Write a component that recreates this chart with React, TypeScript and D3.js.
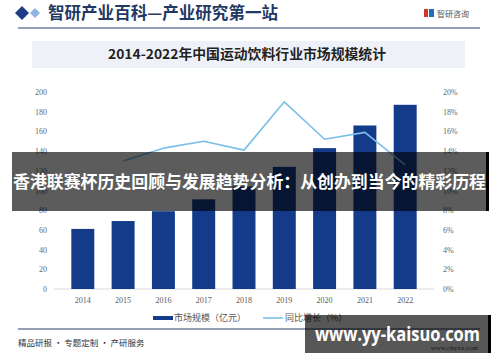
import { line, scaleBand, scaleLinear } from "d3";

const years = ["2014", "2015", "2016", "2017", "2018", "2019", "2020", "2021", "2022"];
const marketSize = [61, 69, 79, 91, 104, 124, 143, 166, 187];
const growthRate = [null, 13.0, 14.3, 15.0, 14.1, 19.0, 15.2, 15.9, 12.6];
const leftTicks = [0, 20, 40, 60, 80, 100, 120, 140, 160, 180, 200];
const rightTicks = [0, 2, 4, 6, 8, 10, 12, 14, 16, 18, 20];

const cjk = "'Noto Sans CJK SC', 'Noto Sans', sans-serif";
const serif = "'Liberation Serif', 'DejaVu Serif', serif";

export default function App() {
  const width = 500;
  const height = 362;
  const plotLeft = 54;
  const plotRight = 434;
  const plotTop = 92;
  const plotBottom = 289;

  const x = scaleBand<string>().domain(years).range([plotLeft, plotRight]).padding(0.43);
  const yLeft = scaleLinear().domain([0, 200]).range([plotBottom, plotTop]);
  const yRight = scaleLinear().domain([0, 20]).range([plotBottom, plotTop]);

  const growthPoints = years
    .map((year, i) => ({ year, value: growthRate[i] }))
    .filter((d) => d.value !== null) as { year: string; value: number }[];

  const growthLine = line<{ year: string; value: number }>()
    .x((d) => (x(d.year) ?? 0) + x.bandwidth() / 2)
    .y((d) => yRight(d.value))(growthPoints);

  return (
    <svg
      width={width}
      height={height}
      viewBox={`0 0 ${width} ${height}`}
      style={{ position: "absolute", left: 0, top: 0, background: "#ffffff" }}
    >
      <rect width={width} height={height} fill="#ffffff" />

      {/* header */}
      <path d="M15 13 L22 6 L29 13 L22 20 Z" fill="#1f3c88" />
      <path d="M30 13 L35 8 L40 13 L35 18 Z" fill="#8fb4e3" />
      <text
        x={48}
        y={19}
        fill="#1f3864"
        fontSize="16.5"
        fontWeight="700"
        fontFamily={cjk}
        textLength={230}
        lengthAdjust="spacingAndGlyphs"
      >
        智研产业百科—产业研究第一站
      </text>
      <rect x={424} y={9} width={4} height={8} fill="#d9342b" />
      <rect x={429} y={9} width={5} height={8} fill="#1f6fc1" />
      <text x={437} y={17} fill="#555" fontSize="8" fontFamily={cjk}>
        智研咨询
      </text>
      <line x1={18} x2={480} y1={28} y2={28} stroke="#2c3e66" strokeWidth="1" />

      {/* subtitle */}
      <rect x={32} y={41} width={433} height={27} fill="#eef2f8" />
      <text
        x={108}
        y={59}
        fill="#222"
        fontSize="13.5"
        fontWeight="700"
        fontFamily={cjk}
        textLength={278}
        lengthAdjust="spacingAndGlyphs"
      >
        2014-2022年中国运动饮料行业市场规模统计
      </text>

      {/* axes ticks */}
      {leftTicks.map((t) => (
        <text
          key={`l${t}`}
          x={47}
          y={yLeft(t) + 3}
          textAnchor="end"
          fill="#666"
          fontSize="8"
          fontFamily={serif}
        >
          {t}
        </text>
      ))}
      {rightTicks.map((t) => (
        <text
          key={`r${t}`}
          x={443}
          y={yRight(t) + 3}
          textAnchor="start"
          fill="#666"
          fontSize="8"
          fontFamily={serif}
        >
          {t}%
        </text>
      ))}
      <line x1={plotLeft} x2={plotRight} y1={plotBottom} y2={plotBottom} stroke="#d9d9d9" />

      {/* bars */}
      {years.map((year, i) => (
        <g key={year}>
          <rect
            x={x(year)}
            y={yLeft(marketSize[i])}
            width={x.bandwidth()}
            height={plotBottom - yLeft(marketSize[i])}
            fill="#133b8a"
          />
          <text
            x={(x(year) ?? 0) + x.bandwidth() / 2}
            y={plotBottom + 14}
            textAnchor="middle"
            fill="#595959"
            fontSize="8"
            fontFamily={serif}
          >
            {year}
          </text>
        </g>
      ))}

      {growthLine ? (
        <path d={growthLine} fill="none" stroke="#7cbfe9" strokeWidth="1.6" strokeLinejoin="round" />
      ) : null}

      {/* legend */}
      <rect x={153} y={316} width={20} height={4} fill="#133b8a" />
      <text x={174} y={321} fill="#555" fontSize="9" fontFamily={cjk}>
        市场规模（亿元）
      </text>
      <line x1={263} x2={283} y1={318} y2={318} stroke="#7cbfe9" strokeWidth="1.6" />
      <text x={285} y={321} fill="#555" fontSize="9" fontFamily={cjk}>
        同比增长（%）
      </text>

      {/* footer */}
      <line x1={18} x2={480} y1={329} y2={329} stroke="#2c3e66" strokeWidth="1" />
      <text x={18} y={346} fill="#333" fontSize="8.5" fontFamily={cjk}>
        精品研报 · 专题定制 · 产研服务
      </text>
      <text x={478} y={350} textAnchor="end" fill="#555" fontSize="7" fontFamily={serif}>
        www.chyxx.com
      </text>

      {/* overlay banner */}
      <rect x={12} y={152} width={476} height={59} fill="rgba(0,0,0,0.64)" />
      <rect x={486} y={152} width={3} height={59} fill="#000" />
      <text
        x={13}
        y={188}
        fill="#ffffff"
        fontSize="17"
        fontWeight="700"
        fontFamily={cjk}
        textLength={473}
        lengthAdjust="spacingAndGlyphs"
      >
        香港联赛杯历史回顾与发展趋势分析：从创办到当今的精彩历程
      </text>

      {/* bottom-right watermark banner */}
      <rect x={305} y={315} width={183} height={38} fill="rgba(0,0,0,0.66)" />
      <rect x={488} y={315} width={3} height={38} fill="#000" />
      <text
        x={315}
        y={341}
        fill="#ffffff"
        fontSize="19"
        fontWeight="700"
        fontFamily="'Open Sans', 'DejaVu Sans', sans-serif"
        textLength={165}
        lengthAdjust="spacingAndGlyphs"
      >
        www.yy-kaisuo.com
      </text>
    </svg>
  );
}
